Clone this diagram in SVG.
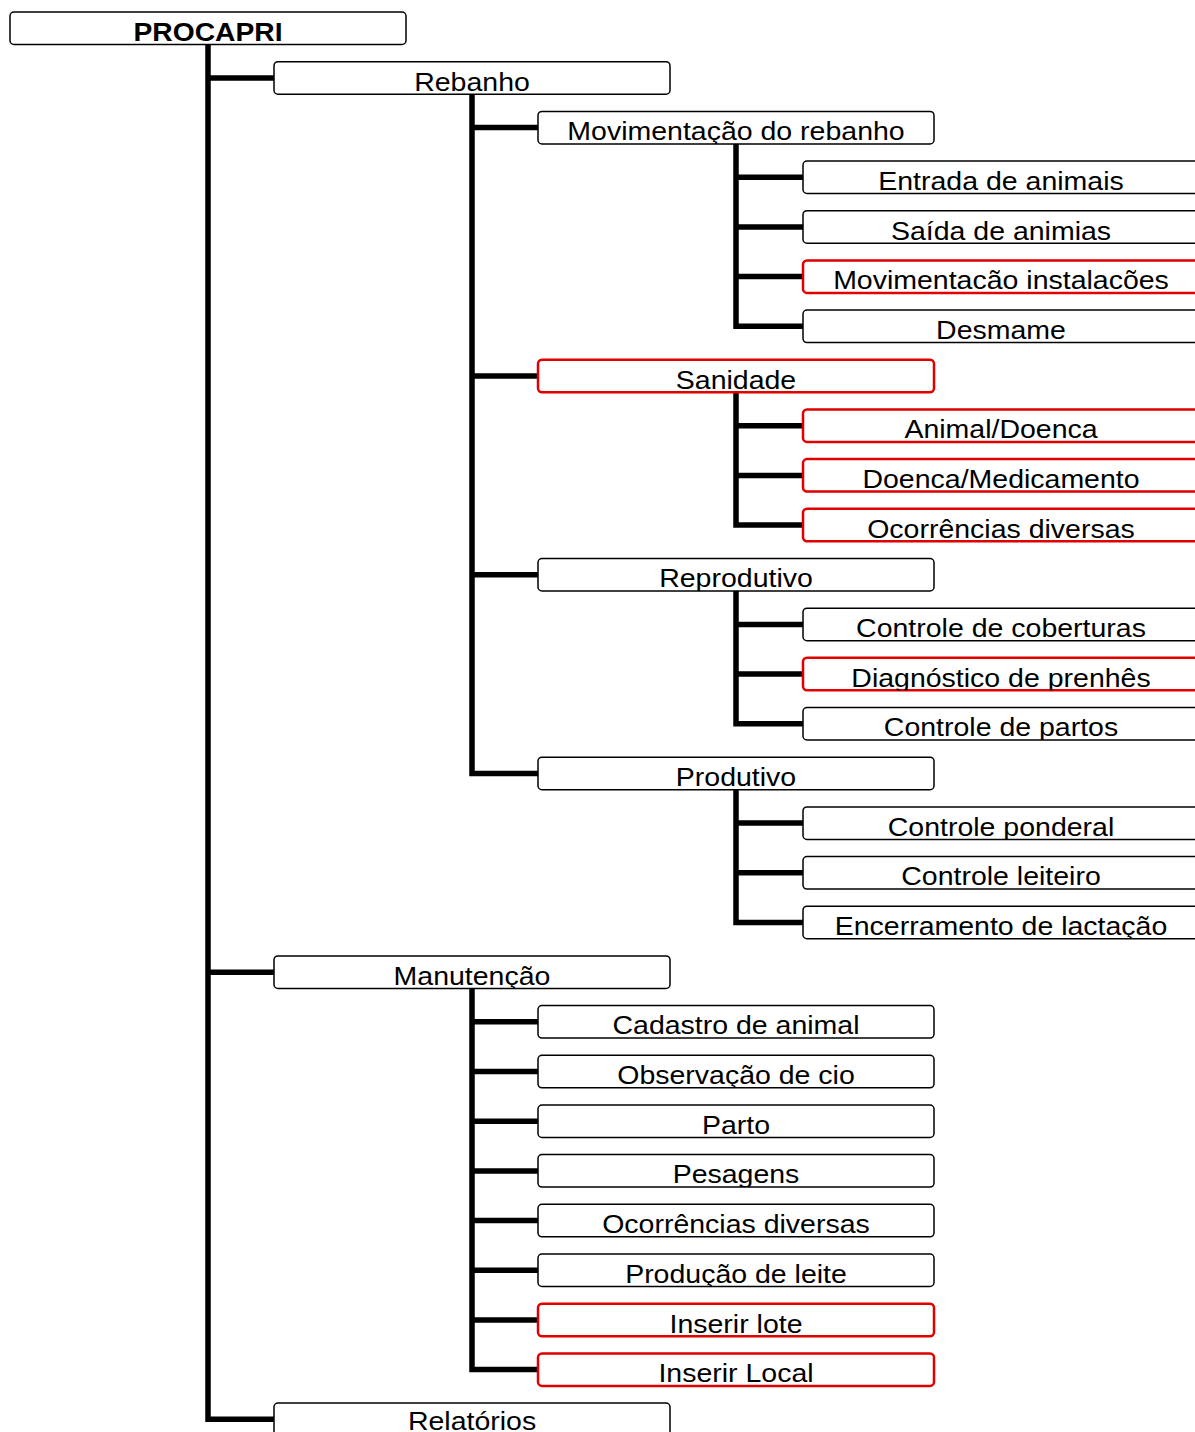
<svg xmlns="http://www.w3.org/2000/svg" xmlns:xlink="http://www.w3.org/1999/xlink" width="1195" height="1432" viewBox="0 0 1195 1432">
<style>
.box{fill:#fff;stroke:#000;stroke-width:1.5}
.red{fill:#fff;stroke:#e00000;stroke-width:2.5}
.t{font-family:"Liberation Sans",Arial,sans-serif;font-size:25px;fill:#000;text-anchor:middle}
.b{font-weight:bold}
.c{fill:none;stroke:#000;stroke-width:5.5;stroke-linejoin:miter;stroke-linecap:butt}
</style>
<rect width="1195" height="1432" fill="#fff"/>
<g id="connectors">
<path class="c" d="M208 44.5V1419.3H274M208 78H274M208 972.2H274"/>
<path class="c" d="M472 94.2V773.4H538M472 127.6H538M472 376H538M472 574.7H538"/>
<path class="c" d="M472 988.4V1369.6H538M472 1021.8H538M472 1071.5H538M472 1121.2H538M472 1170.9H538M472 1220.6H538M472 1270.2H538M472 1319.9H538"/>
<path class="c" d="M736 143.9V326.3H803M736 177.3H803M736 227H803M736 276.6H803"/>
<path class="c" d="M736 392.3V525H803M736 425.7H803M736 475.4H803"/>
<path class="c" d="M736 591V723.8H803M736 624.4H803M736 674.1H803"/>
<path class="c" d="M736 789.7V922.5H803M736 823.1H803M736 872.8H803"/>
</g>
<g id="n0"><rect id="r0" class="box" x="10" y="12" width="396" height="32.5" rx="4"/><clipPath id="c0"><use xlink:href="#r0"/></clipPath><g clip-path="url(#c0)"><text class="t b" transform="translate(208 40.5) scale(1.13 1)">PROCAPRI</text></g></g>
<g id="n1"><rect id="r1" class="box" x="274" y="61.7" width="396" height="32.5" rx="4"/><clipPath id="c1"><use xlink:href="#r1"/></clipPath><g clip-path="url(#c1)"><text class="t" transform="translate(472 90.5) scale(1.14 1)">Rebanho</text></g></g>
<g id="n2"><rect id="r2" class="box" x="538" y="111.4" width="396" height="32.5" rx="4"/><clipPath id="c2"><use xlink:href="#r2"/></clipPath><g clip-path="url(#c2)"><text class="t" transform="translate(736 140.2) scale(1.14 1)">Movimentação do rebanho</text></g></g>
<g id="n3"><rect id="r3" class="box" x="803" y="161" width="400" height="32.5" rx="4"/><clipPath id="c3"><use xlink:href="#r3"/></clipPath><g clip-path="url(#c3)"><text class="t" transform="translate(1001 189.8) scale(1.14 1)">Entrada de animais</text></g></g>
<g id="n4"><rect id="r4" class="box" x="803" y="210.7" width="400" height="32.5" rx="4"/><clipPath id="c4"><use xlink:href="#r4"/></clipPath><g clip-path="url(#c4)"><text class="t" transform="translate(1001 239.5) scale(1.14 1)">Saída de animias</text></g></g>
<g id="n5"><rect id="r5" class="red" x="803" y="260.4" width="400" height="32.5" rx="4"/><clipPath id="c5"><use xlink:href="#r5"/></clipPath><g clip-path="url(#c5)"><text class="t" transform="translate(1001 289.2) scale(1.14 1)">Movimentacão instalacões</text></g></g>
<g id="n6"><rect id="r6" class="box" x="803" y="310.1" width="400" height="32.5" rx="4"/><clipPath id="c6"><use xlink:href="#r6"/></clipPath><g clip-path="url(#c6)"><text class="t" transform="translate(1001 338.9) scale(1.14 1)">Desmame</text></g></g>
<g id="n7"><rect id="r7" class="red" x="538" y="359.8" width="396" height="32.5" rx="4"/><clipPath id="c7"><use xlink:href="#r7"/></clipPath><g clip-path="url(#c7)"><text class="t" transform="translate(736 388.6) scale(1.14 1)">Sanidade</text></g></g>
<g id="n8"><rect id="r8" class="red" x="803" y="409.4" width="400" height="32.5" rx="4"/><clipPath id="c8"><use xlink:href="#r8"/></clipPath><g clip-path="url(#c8)"><text class="t" transform="translate(1001 438.2) scale(1.14 1)">Animal/Doenca</text></g></g>
<g id="n9"><rect id="r9" class="red" x="803" y="459.1" width="400" height="32.5" rx="4"/><clipPath id="c9"><use xlink:href="#r9"/></clipPath><g clip-path="url(#c9)"><text class="t" transform="translate(1001 487.9) scale(1.14 1)">Doenca/Medicamento</text></g></g>
<g id="n10"><rect id="r10" class="red" x="803" y="508.8" width="400" height="32.5" rx="4"/><clipPath id="c10"><use xlink:href="#r10"/></clipPath><g clip-path="url(#c10)"><text class="t" transform="translate(1001 537.6) scale(1.14 1)">Ocorrências diversas</text></g></g>
<g id="n11"><rect id="r11" class="box" x="538" y="558.5" width="396" height="32.5" rx="4"/><clipPath id="c11"><use xlink:href="#r11"/></clipPath><g clip-path="url(#c11)"><text class="t" transform="translate(736 587.3) scale(1.14 1)">Reprodutivo</text></g></g>
<g id="n12"><rect id="r12" class="box" x="803" y="608.2" width="400" height="32.5" rx="4"/><clipPath id="c12"><use xlink:href="#r12"/></clipPath><g clip-path="url(#c12)"><text class="t" transform="translate(1001 637) scale(1.14 1)">Controle de coberturas</text></g></g>
<g id="n13"><rect id="r13" class="red" x="803" y="657.8" width="400" height="32.5" rx="4"/><clipPath id="c13"><use xlink:href="#r13"/></clipPath><g clip-path="url(#c13)"><text class="t" transform="translate(1001 686.6) scale(1.14 1)">Diagnóstico de prenhês</text></g></g>
<g id="n14"><rect id="r14" class="box" x="803" y="707.5" width="400" height="32.5" rx="4"/><clipPath id="c14"><use xlink:href="#r14"/></clipPath><g clip-path="url(#c14)"><text class="t" transform="translate(1001 736.3) scale(1.14 1)">Controle de partos</text></g></g>
<g id="n15"><rect id="r15" class="box" x="538" y="757.2" width="396" height="32.5" rx="4"/><clipPath id="c15"><use xlink:href="#r15"/></clipPath><g clip-path="url(#c15)"><text class="t" transform="translate(736 786) scale(1.14 1)">Produtivo</text></g></g>
<g id="n16"><rect id="r16" class="box" x="803" y="806.9" width="400" height="32.5" rx="4"/><clipPath id="c16"><use xlink:href="#r16"/></clipPath><g clip-path="url(#c16)"><text class="t" transform="translate(1001 835.7) scale(1.14 1)">Controle ponderal</text></g></g>
<g id="n17"><rect id="r17" class="box" x="803" y="856.6" width="400" height="32.5" rx="4"/><clipPath id="c17"><use xlink:href="#r17"/></clipPath><g clip-path="url(#c17)"><text class="t" transform="translate(1001 885.4) scale(1.14 1)">Controle leiteiro</text></g></g>
<g id="n18"><rect id="r18" class="box" x="803" y="906.2" width="400" height="32.5" rx="4"/><clipPath id="c18"><use xlink:href="#r18"/></clipPath><g clip-path="url(#c18)"><text class="t" transform="translate(1001 935) scale(1.14 1)">Encerramento de lactação</text></g></g>
<g id="n19"><rect id="r19" class="box" x="274" y="955.9" width="396" height="32.5" rx="4"/><clipPath id="c19"><use xlink:href="#r19"/></clipPath><g clip-path="url(#c19)"><text class="t" transform="translate(472 984.7) scale(1.14 1)">Manutenção</text></g></g>
<g id="n20"><rect id="r20" class="box" x="538" y="1005.6" width="396" height="32.5" rx="4"/><clipPath id="c20"><use xlink:href="#r20"/></clipPath><g clip-path="url(#c20)"><text class="t" transform="translate(736 1034.4) scale(1.14 1)">Cadastro de animal</text></g></g>
<g id="n21"><rect id="r21" class="box" x="538" y="1055.3" width="396" height="32.5" rx="4"/><clipPath id="c21"><use xlink:href="#r21"/></clipPath><g clip-path="url(#c21)"><text class="t" transform="translate(736 1084.1) scale(1.14 1)">Observação de cio</text></g></g>
<g id="n22"><rect id="r22" class="box" x="538" y="1105" width="396" height="32.5" rx="4"/><clipPath id="c22"><use xlink:href="#r22"/></clipPath><g clip-path="url(#c22)"><text class="t" transform="translate(736 1133.8) scale(1.14 1)">Parto</text></g></g>
<g id="n23"><rect id="r23" class="box" x="538" y="1154.6" width="396" height="32.5" rx="4"/><clipPath id="c23"><use xlink:href="#r23"/></clipPath><g clip-path="url(#c23)"><text class="t" transform="translate(736 1183.4) scale(1.14 1)">Pesagens</text></g></g>
<g id="n24"><rect id="r24" class="box" x="538" y="1204.3" width="396" height="32.5" rx="4"/><clipPath id="c24"><use xlink:href="#r24"/></clipPath><g clip-path="url(#c24)"><text class="t" transform="translate(736 1233.1) scale(1.14 1)">Ocorrências diversas</text></g></g>
<g id="n25"><rect id="r25" class="box" x="538" y="1254" width="396" height="32.5" rx="4"/><clipPath id="c25"><use xlink:href="#r25"/></clipPath><g clip-path="url(#c25)"><text class="t" transform="translate(736 1282.8) scale(1.14 1)">Produção de leite</text></g></g>
<g id="n26"><rect id="r26" class="red" x="538" y="1303.7" width="396" height="32.5" rx="4"/><clipPath id="c26"><use xlink:href="#r26"/></clipPath><g clip-path="url(#c26)"><text class="t" transform="translate(736 1332.5) scale(1.14 1)">Inserir lote</text></g></g>
<g id="n27"><rect id="r27" class="red" x="538" y="1353.4" width="396" height="32.5" rx="4"/><clipPath id="c27"><use xlink:href="#r27"/></clipPath><g clip-path="url(#c27)"><text class="t" transform="translate(736 1382.2) scale(1.14 1)">Inserir Local</text></g></g>
<g id="n28"><rect id="r28" class="box" x="274" y="1403" width="396" height="32.5" rx="4"/><clipPath id="c28"><use xlink:href="#r28"/></clipPath><g clip-path="url(#c28)"><text class="t" transform="translate(472 1430) scale(1.14 1)">Relatórios</text></g></g>
</svg>
